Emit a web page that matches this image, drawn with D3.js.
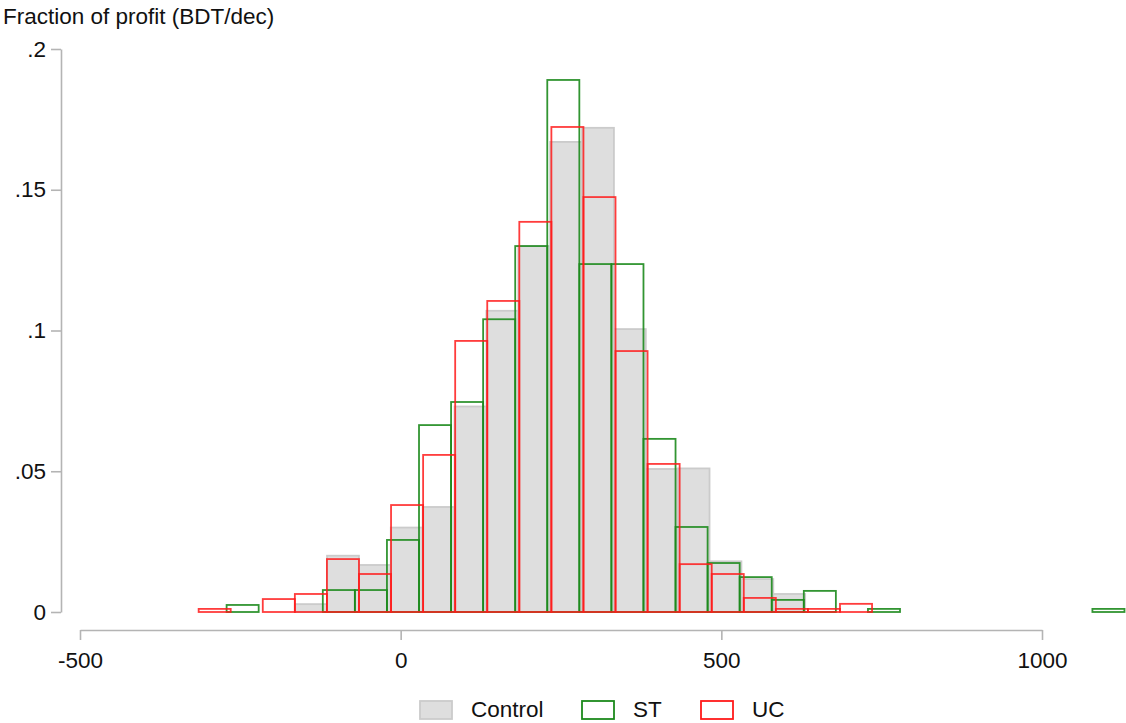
<!DOCTYPE html>
<html>
<head>
<meta charset="utf-8">
<script src="https://cdn.jsdelivr.net/npm/d3@7"></script>
<style>
  body { margin: 0; background: #fff; }
  svg { font-family: "Liberation Sans", Arial, sans-serif; }
</style>
</head>
<body>
<div id="canvas"></div>
<script>
// bin left edges (BDT/dec) and bin widths
const ctrlStart = -164.5;
const ctrlWidth = 49.7;
const ctrlFrac = [0.0028, 0.020, 0.0167, 0.030, 0.0373, 0.073, 0.107, 0.130,
  0.167, 0.172, 0.1005, 0.0508, 0.051, 0.018, 0.0117, 0.0064];

const stStart = -271.4;
const stWidth = 50;
const stFrac = [0.0025, 0, 0, 0.0078, 0.0078, 0.0256, 0.0664, 0.0746, 0.104,
  0.130, 0.189, 0.1236, 0.1236, 0.0615, 0.0302, 0.0174, 0.0124, 0.0043, 0.0075,
  0, 0.0011, 0, 0, 0, 0, 0, 0, 0.0011];

const ucStart = -315;
const ucWidth = 50;
const ucFrac = [0.0011, 0, 0.0046, 0.0064, 0.0188, 0.0135, 0.038, 0.0558, 0.0963,
  0.1105, 0.1386, 0.1723, 0.1474, 0.0927, 0.0526, 0.017, 0.0135, 0.005, 0.0011,
  0.0011, 0.0029];

const xTicks = [-500, 0, 500, 1000];
const yTicks = [0, 0.05, 0.1, 0.15, 0.2];
const legendNames = ["Control", "ST", "UC"];

const width = 1126;
const height = 723;
const fontSize = "22.5px";

const svg = d3.select("#canvas").append("svg")
  .attr("width", width)
  .attr("height", height);

const x = d3.scaleLinear().domain([-500, 1000]).range([80, 1042]);
const y = d3.scaleLinear().domain([0, 0.2]).range([612, 49]);

const toBins = (start, w, fr) => fr.map((f, i) => ({ x0: start + i * w, x1: start + (i + 1) * w, f }))
  .filter(d => d.f > 0);

const series = [
  { name: "Control", bins: toBins(ctrlStart, ctrlWidth, ctrlFrac), fill: "#dedede", stroke: "#cbcbcb", op: 1 },
  { name: "ST", bins: toBins(stStart, stWidth, stFrac), fill: "none", stroke: "#1c8a1c", op: 0.9 },
  { name: "UC", bins: toBins(ucStart, ucWidth, ucFrac), fill: "none", stroke: "#ff1a1a", op: 0.85 }
];

series.forEach(s => {
  svg.append("g").selectAll("rect").data(s.bins).enter().append("rect")
    .attr("x", d => x(d.x0))
    .attr("y", d => y(d.f))
    .attr("width", d => x(d.x1) - x(d.x0))
    .attr("height", d => y(0) - y(d.f))
    .style("fill", s.fill)
    .style("stroke", s.stroke)
    .style("stroke-width", 1.8)
    .style("stroke-opacity", s.op);
});

// y axis
const yAxis = svg.append("g")
  .attr("transform", "translate(61,0)")
  .call(d3.axisLeft(y).tickValues(yTicks).tickSize(10).tickSizeOuter(0).tickPadding(5)
    .tickFormat(d => d === 0 ? "0" : String(d).replace(/^0\./, ".")));

// x axis
const xAxis = svg.append("g")
  .attr("transform", "translate(0,630)")
  .call(d3.axisBottom(x).tickValues(xTicks).tickSize(10).tickSizeOuter(0).tickPadding(12)
    .tickFormat(d => String(d)));

[yAxis, xAxis].forEach(a => {
  a.selectAll("path, line").style("stroke", "#b4b4b4").style("stroke-width", 1.6);
  a.selectAll("text").style("font-size", fontSize).style("fill", "#111");
});

svg.append("text")
  .attr("x", 3)
  .attr("y", 24)
  .style("font-size", fontSize)
  .style("fill", "#111")
  .text("Fraction of profit (BDT/dec)");

// legend
const legendX = [420, 582, 701];
const lg = svg.append("g");
legendNames.forEach((n, i) => {
  const s = series[i];
  lg.append("rect")
    .attr("x", legendX[i])
    .attr("y", 701)
    .attr("width", 32)
    .attr("height", 18)
    .style("fill", s.fill === "none" ? "#fff" : s.fill)
    .style("stroke", s.stroke)
    .style("stroke-width", 1.8);
  lg.append("text")
    .attr("x", legendX[i] + 51)
    .attr("y", 717)
    .style("font-size", fontSize)
    .style("fill", "#111")
    .text(n);
});
</script>
</body>
</html>
